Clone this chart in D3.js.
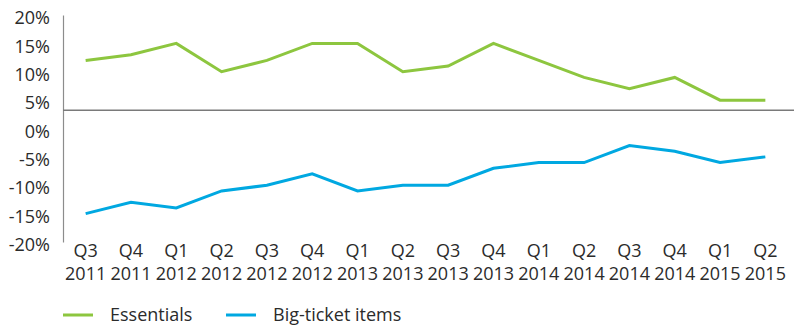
<!DOCTYPE html>
<html>
<head>
<meta charset="utf-8">
<script src="https://cdn.jsdelivr.net/npm/d3@7"></script>
<style>
  body { margin: 0; background: #fff; }
  text { font-family: "Open Sans", sans-serif; fill: #2b2b2b; }
</style>
</head>
<body>
<div id="chart"></div>
<script>
// chart data
var quarters = ["Q3", "Q4", "Q1", "Q2", "Q3", "Q4", "Q1", "Q2", "Q3", "Q4", "Q1", "Q2", "Q3", "Q4", "Q1", "Q2"];
var years = ["2011", "2011", "2012", "2012", "2012", "2012", "2013", "2013", "2013", "2013", "2014", "2014", "2014", "2014", "2015", "2015"];
var essentials = [12, 13, 15, 10, 12, 15, 15, 10, 11, 15, 12, 9, 7, 9, 5, 5];
var bigTicket = [-15, -13, -14, -11, -10, -8, -11, -10, -10, -7, -6, -6, -3, -4, -6, -5];
var yTicks = [-20, -15, -10, -5, 0, 5, 10, 15, 20];
var axisCross = 3.2;

var svgWidth = 799;
var svgHeight = 325;

var svg = d3.select("#chart")
  .append("svg")
  .attr("width", svgWidth)
  .attr("height", svgHeight);

var keys = quarters.map((q, i) => i);

var x = d3.scaleBand()
  .domain(keys)
  .range([63, 788]);

var y = d3.scaleLinear()
  .domain([-20, 20])
  .range([242, 15]);

// y axis
var leftAxis = d3.axisLeft(y)
  .tickValues(yTicks)
  .tickSize(0)
  .tickPadding(13)
  .tickFormat(d => d + "%");

var yAxis = svg.append("g")
  .attr("transform", "translate(63,0)")
  .call(leftAxis);

yAxis.select(".domain").attr("stroke", "#8c8c8c").attr("stroke-width", 1.2);
yAxis.selectAll("text")
  .style("font-size", "18px")
  .attr("dy", "0.48em");

// horizontal axis line
svg.append("line")
  .attr("x1", 63)
  .attr("x2", 794)
  .attr("y1", y(axisCross))
  .attr("y2", y(axisCross))
  .attr("stroke", "#7a7a7a")
  .attr("stroke-width", 1.5);

// x labels (two rows)
var bottomAxis = d3.axisBottom(x)
  .tickSize(0)
  .tickFormat("");

var xAxis = svg.append("g")
  .attr("transform", "translate(0,242)")
  .call(bottomAxis);

xAxis.select(".domain").remove();

var lab = xAxis.selectAll(".tick")
  .append("text")
  .attr("text-anchor", "middle")
  .style("font-size", "18px");

lab.append("tspan")
  .attr("x", 0)
  .attr("y", 15)
  .text(d => quarters[d]);

lab.append("tspan")
  .attr("x", 0)
  .attr("y", 38)
  .text(d => years[d]);

// lines
var line = d3.line()
  .x((d, i) => x(i) + x.bandwidth() / 2)
  .y(d => y(d));

svg.append("path")
  .datum(essentials)
  .attr("d", line)
  .attr("fill", "none")
  .attr("stroke", "#8dc63f")
  .attr("stroke-width", 3);

svg.append("path")
  .datum(bigTicket)
  .attr("d", line)
  .attr("fill", "none")
  .attr("stroke", "#00a8e1")
  .attr("stroke-width", 3);

// legend
var legendItems = [
  { name: "Essentials", color: "#8dc63f", x: 63 },
  { name: "Big-ticket items", color: "#00a8e1", x: 226 }
];

var legend = svg.selectAll(".legend")
  .data(legendItems)
  .enter()
  .append("g")
  .attr("class", "legend")
  .attr("transform", d => `translate(${d.x},315)`);

legend.append("line")
  .attr("x1", 0)
  .attr("x2", 30)
  .attr("stroke", d => d.color)
  .attr("stroke-width", 3);

legend.append("text")
  .attr("x", 47)
  .attr("y", 6)
  .style("font-size", "18px")
  .text(d => d.name);
</script>
</body>
</html>
